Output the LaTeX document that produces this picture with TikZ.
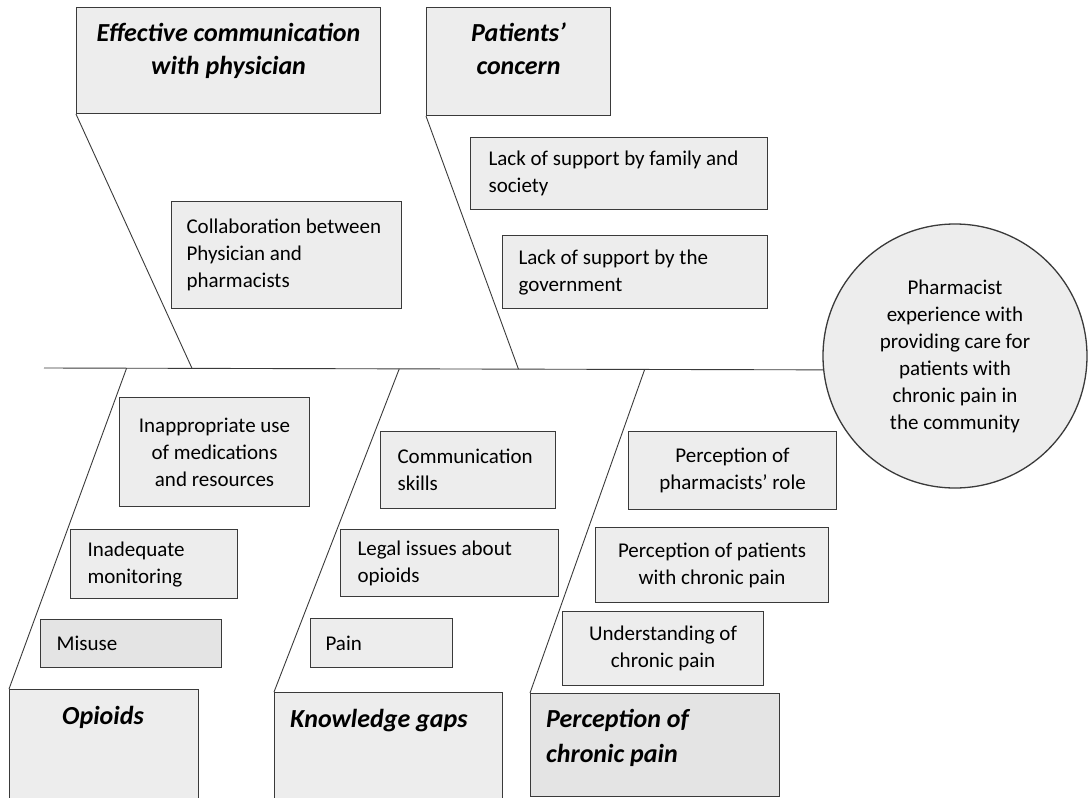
\documentclass[tikz,border=0pt]{standalone}
\usepackage{fontspec}
\setmainfont{Carlito}
\usetikzlibrary{positioning}
\definecolor{boxfill}{HTML}{EDEDED}
\definecolor{boxdark}{HTML}{E4E4E4}
\definecolor{rule}{HTML}{3A3A3A}

\begin{document}
\begin{tikzpicture}[x=1pt,y=-1pt]
   \useasboundingbox (0,0) rectangle (1088,798);
   \tikzstyle{cause}=[draw=rule, fill=boxfill, line width=1.1pt, anchor=north west, inner ysep=0pt, font=\fontsize{21}{27}\selectfont]
   \tikzstyle{head}=[draw=rule, fill=boxfill, line width=1.1pt, anchor=north west]
   \tikzstyle{headtext}=[inner sep=0pt, align=flush center, font=\fontsize{26}{33}\selectfont\bfseries\itshape]
   \tikzstyle{bone}=[draw=rule, line width=0.9pt]
   % problem
   \node[circle, draw=rule, fill=boxfill, line width=1.3pt, minimum size=264pt, align=flush center, font=\fontsize{21}{27}\selectfont] (effect) at (955,356) {Pharmacist\\experience with\\providing care for\\patients with\\chronic pain in\\the community};
   \coordinate (tail) at (44,368);
   \draw[bone] (tail) -- coordinate[pos=0.106] (jopi) coordinate[pos=0.19] (jeff)
      coordinate[pos=0.456] (jknow) coordinate[pos=0.609] (jpat) coordinate[pos=0.771] (jperc) (effect.186.5);
   % categories
   \node[head, minimum width=304pt, minimum height=106pt] (effective) at (76,7) {};
   \node[headtext, below=16pt of effective.north] {Effective communication\\with physician};
   \node[head, minimum width=184pt, minimum height=108pt] (patients) at (426,7) {};
   \node[headtext, below=16pt of patients.north] {Patients'\\concern};
   \node[head, minimum width=189pt, minimum height=112pt] (opioids) at (9,689) {};
   \node[headtext, below right=17pt and 53pt of opioids.north west] {Opioids};
   \node[head, minimum width=228pt, minimum height=106pt] (knowledge) at (274,692) {};
   \node[headtext, below right=17pt and 16pt of knowledge.north west] {Knowledge gaps};
   \node[head, fill=boxdark, minimum width=249pt, minimum height=103pt] (perception) at (530,693) {};
   \node[headtext, align=flush left, font=\fontsize{26}{35}\selectfont\bfseries\itshape, below right=16pt and 16pt of perception.north west] {Perception of\\chronic pain};
   \draw[bone] (effective.south west) -- (jeff);
   \draw[bone] (patients.south west) -- (jpat);
   \draw[bone] (opioids.north west) -- (jopi);
   \draw[bone] (knowledge.north west) -- (jknow);
   \draw[bone] (perception.north west) -- (jperc);
   % causes, left aligned
   \foreach \name/\x/\y/\w/\h/\pad/\shade/\txt in {
       collab/171/201/230/107/15/boxfill/{Collaboration between\\Physician and\\pharmacists},
       family/470/137/297/72/18/boxfill/{Lack of support by family and\\society},
       govt/502/235/265/73/16/boxfill/{Lack of support by the\\government},
       monitor/70/529/167/69/17/boxfill/{Inadequate\\monitoring},
       misuse/40/619/181/48/16/boxdark/{Misuse},
       skills/380/431/175/77/17/boxfill/{Communication\\skills},
       legal/340/529/218/67/17/boxfill/{Legal issues about\\opioids},
       pain/310/618/142/49/15/boxfill/{Pain}} {
       \pgfmathsetmacro{\tw}{\w-2*\pad}
       \node[cause, fill=\shade, align=flush left, inner xsep=\pad pt, text width=\tw pt, minimum width=\w pt, minimum height=\h pt] (\name) at (\x,\y) {\txt};
   }
   % causes, centred
   \node[cause, align=flush center, minimum width=190pt, minimum height=109pt] (misuse2) at (119,397) {Inappropriate use\\of medications\\and resources};
   \node[cause, align=flush center, minimum width=208pt, minimum height=78pt] (role) at (628,431) {Perception of\\pharmacists' role};
   \node[cause, align=flush center, minimum width=233pt, minimum height=75pt] (patview) at (595,527) {Perception of patients\\with chronic pain};
   \node[cause, align=flush center, minimum width=201pt, minimum height=74pt] (understand) at (562,611) {Understanding of\\chronic pain};
\end{tikzpicture}
\end{document}
